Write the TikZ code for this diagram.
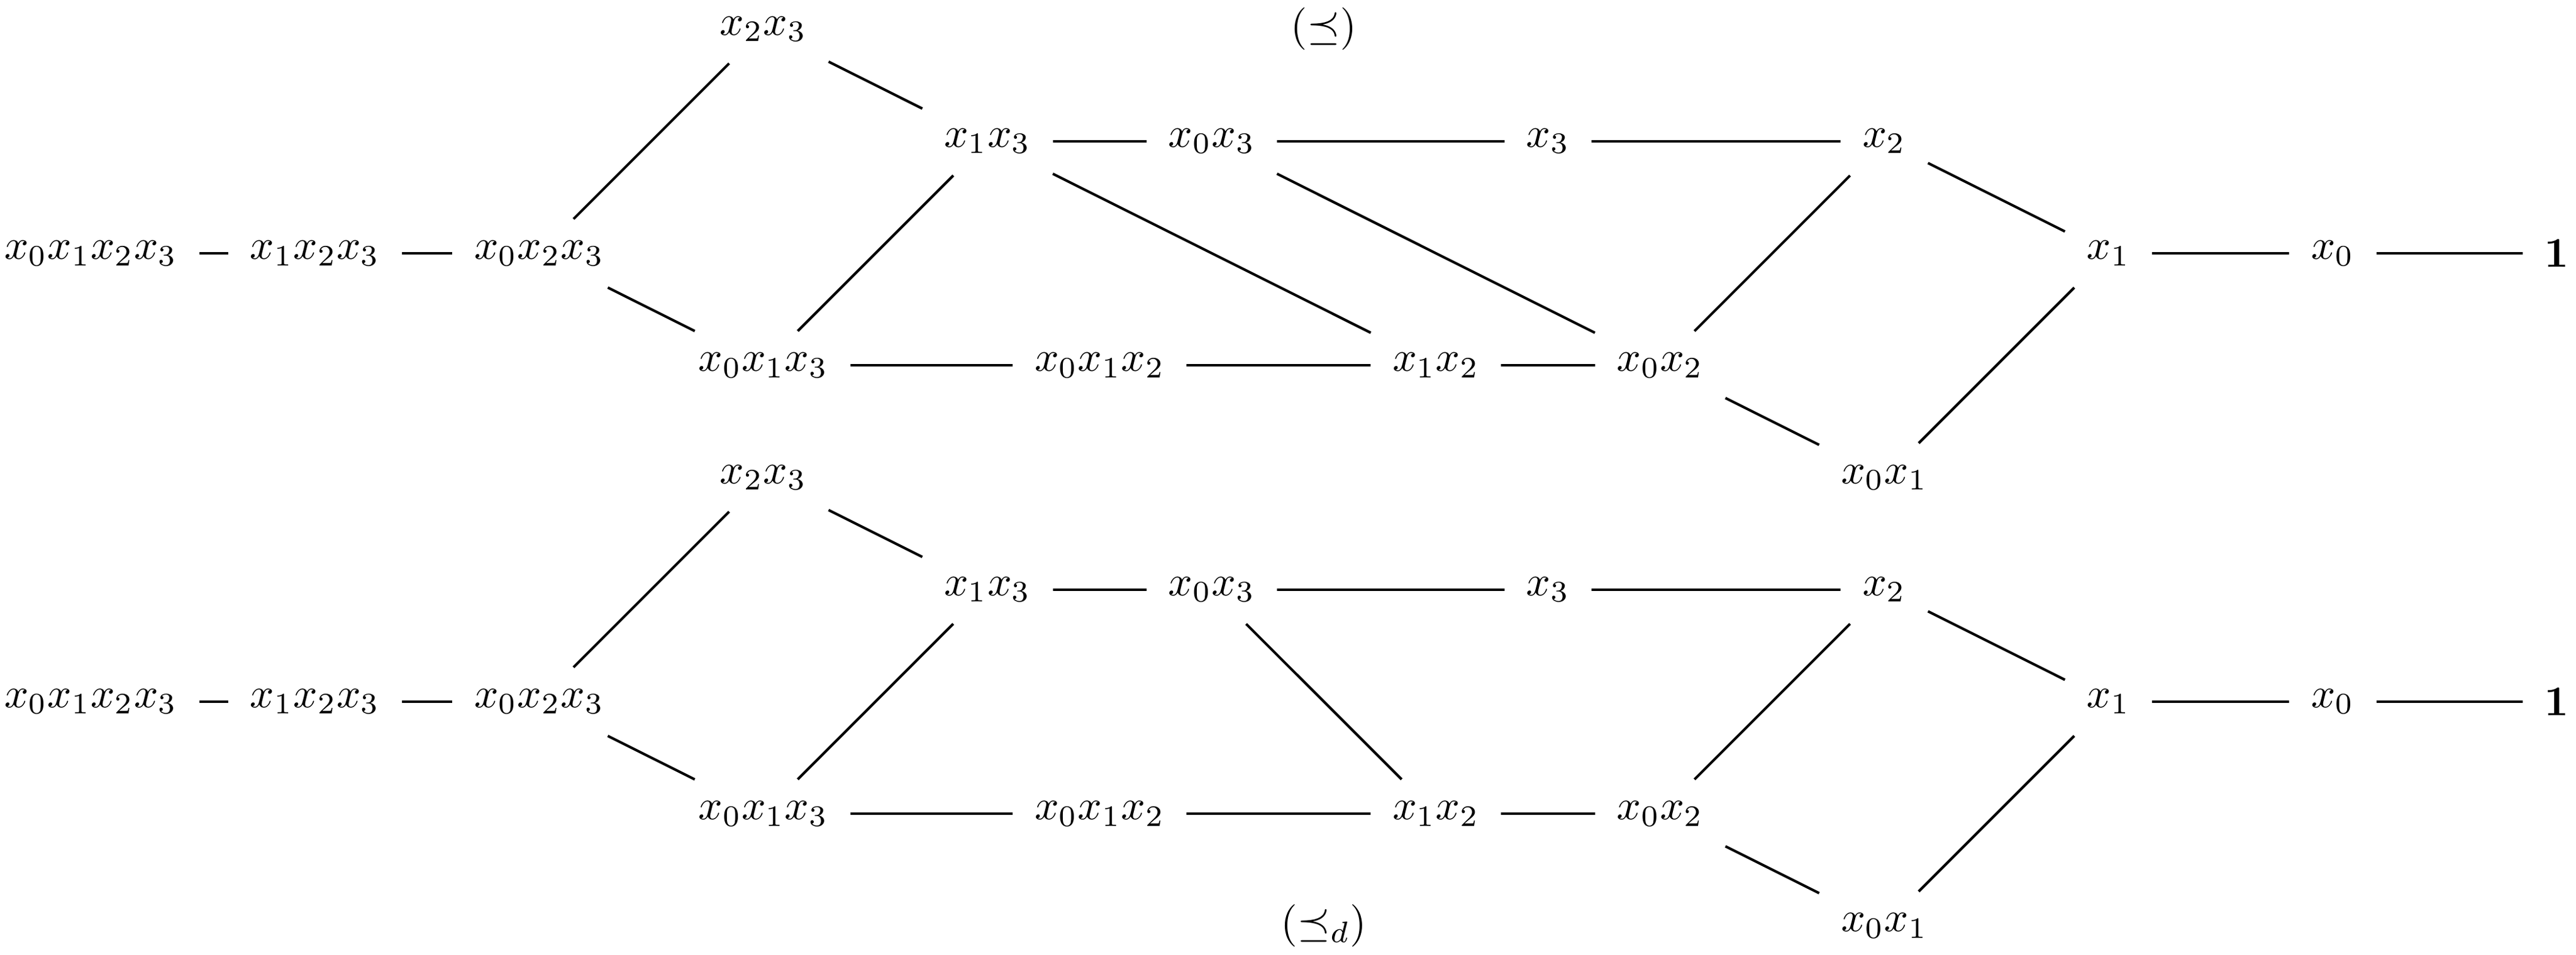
\documentclass[tikz,border=0pt]{standalone}
\usepackage{amsmath,amssymb}
\usetikzlibrary{positioning}

\begin{document}
\begin{tikzpicture}[
    x=0.93cm, y=-0.93cm,
    elem/.style={inner sep=5pt},
    edge/.style={semithick}
]
\useasboundingbox (-0.81,-0.26) rectangle (22.17,8.26);

% Order (top)
\node at (11,0) {$(\preceq)$};
\node[elem] (a0123) at (0,2) {$x_0x_1x_2x_3$};
\node[elem] (a123) at (2,2) {$x_1x_2x_3$};
\node[elem] (a023) at (4,2) {$x_0x_2x_3$};
\node[elem] (a23) at (6,0) {$x_2x_3$};
\node[elem] (a013) at (6,3) {$x_0x_1x_3$};
\node[elem] (a13) at (8,1) {$x_1x_3$};
\node[elem] (a012) at (9,3) {$x_0x_1x_2$};
\node[elem] (a03) at (10,1) {$x_0x_3$};
\node[elem] (a12) at (12,3) {$x_1x_2$};
\node[elem] (a3) at (13,1) {$x_3$};
\node[elem] (a02) at (14,3) {$x_0x_2$};
\node[elem] (a2) at (16,1) {$x_2$};
\node[elem] (a01) at (16,4) {$x_0x_1$};
\node[elem] (a1) at (18,2) {$x_1$};
\node[elem] (a0) at (20,2) {$x_0$};
\node[elem] (aone) at (22,2) {$\mathbf{1}$};

% Connections
\draw[edge] (a0123) -- (a123) -- (a023);
\draw[edge] (a023) -- (a23) -- (a13);
\draw[edge] (a023) -- (a013) -- (a13);
\draw[edge] (a013) -- (a012) -- (a12) -- (a02);
\draw[edge] (a13) -- (a03) -- (a3) -- (a2);
\draw[edge] (a13) -- (a12);
\draw[edge] (a03) -- (a02);
\draw[edge] (a02) -- (a2) -- (a1);
\draw[edge] (a02) -- (a01) -- (a1);
\draw[edge] (a1) -- (a0) -- (aone);

% Dual order (bottom)
\node at (11,8) {$(\preceq_d)$};
\node[elem] (b0123) at (0,6) {$x_0x_1x_2x_3$};
\node[elem] (b123) at (2,6) {$x_1x_2x_3$};
\node[elem] (b023) at (4,6) {$x_0x_2x_3$};
\node[elem] (b23) at (6,4) {$x_2x_3$};
\node[elem] (b013) at (6,7) {$x_0x_1x_3$};
\node[elem] (b13) at (8,5) {$x_1x_3$};
\node[elem] (b012) at (9,7) {$x_0x_1x_2$};
\node[elem] (b03) at (10,5) {$x_0x_3$};
\node[elem] (b12) at (12,7) {$x_1x_2$};
\node[elem] (b3) at (13,5) {$x_3$};
\node[elem] (b02) at (14,7) {$x_0x_2$};
\node[elem] (b2) at (16,5) {$x_2$};
\node[elem] (b01) at (16,8) {$x_0x_1$};
\node[elem] (b1) at (18,6) {$x_1$};
\node[elem] (b0) at (20,6) {$x_0$};
\node[elem] (bone) at (22,6) {$\mathbf{1}$};

% Connections
\draw[edge] (b0123) -- (b123) -- (b023);
\draw[edge] (b023) -- (b23) -- (b13);
\draw[edge] (b023) -- (b013) -- (b13);
\draw[edge] (b013) -- (b012) -- (b12) -- (b02);
\draw[edge] (b13) -- (b03) -- (b3) -- (b2);
\draw[edge] (b03) -- (b12);
\draw[edge] (b02) -- (b2) -- (b1);
\draw[edge] (b02) -- (b01) -- (b1);
\draw[edge] (b1) -- (b0) -- (bone);

\end{tikzpicture}
\end{document}
